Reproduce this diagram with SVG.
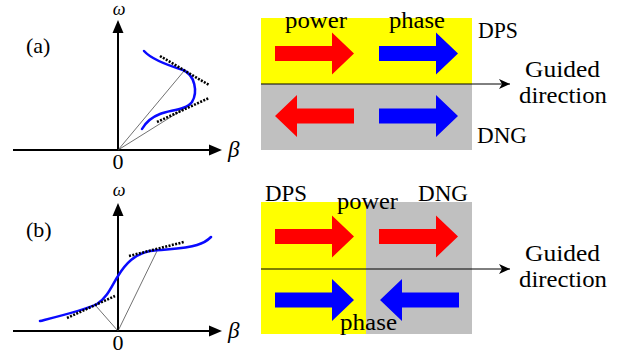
<svg xmlns="http://www.w3.org/2000/svg" width="633" height="358" viewBox="0 0 633 358">
<style>
.axis{stroke:#000;stroke-width:2;fill:none}
.curve{stroke:#0a0aff;stroke-width:2.5;fill:none;stroke-linecap:round}
.tan{stroke:#000;stroke-width:2.6;stroke-dasharray:2 1.4;fill:none}
.thin{stroke:#333;stroke-width:0.7;fill:none}
text{font-family:"Liberation Serif","Times New Roman",serif;fill:#000}
.big{font-size:24px}
.om{font-size:18px;font-style:italic;text-anchor:middle}
.be{font-size:23px;font-style:italic}
.zero{font-size:22px;text-anchor:middle}
.tag{font-size:22px}
.red{fill:#ff0000}
.blue{fill:#0000ff}
.guide{stroke:#000;stroke-width:1;fill:none}
</style>
<defs>
<path id="barrow" d="M0,-7.5 H57 V-21 L79,0 L57,21 V7.5 H0 Z"/>
<marker id="ah" markerWidth="12" markerHeight="10" refX="11" refY="5" orient="auto" markerUnits="userSpaceOnUse">
<path d="M0,0 L11,5 L0,10 L3,5 Z" fill="#000"/>
</marker>
</defs>
<rect width="633" height="358" fill="#fff"/>

<g id="plot-a">
<line class="axis" x1="13" y1="150" x2="212" y2="150"/>
<path d="M222,150 L209,144.5 L209,155.5 Z" fill="#000"/>
<line class="axis" x1="118" y1="150" x2="118" y2="30"/>
<path d="M118,20 L112.5,33 L123.5,33 Z" fill="#000"/>
<line class="thin" x1="118" y1="150" x2="184" y2="71"/>
<line class="thin" x1="118" y1="150" x2="190" y2="105"/>
<path class="curve" d="M144,51 C152,60 170,66 183,70 C195,75 198,92 192,102 C186,110 170,110 160,114 C152,117 146,122 142,129"/>
<line class="tan" x1="160" y1="56" x2="209" y2="85"/>
<line class="tan" x1="157" y1="122" x2="209" y2="98"/>
<text class="om" x="119" y="15">ω</text>
<text class="be" x="228" y="157">β</text>
<text class="zero" x="118" y="169">0</text>
<text class="tag" x="26" y="53">(a)</text>
</g>

<g id="plot-b">
<line class="axis" x1="13" y1="331" x2="212" y2="331"/>
<path d="M222,331 L209,325.5 L209,336.5 Z" fill="#000"/>
<line class="axis" x1="118" y1="331" x2="118" y2="213"/>
<path d="M118,203 L112.5,216 L123.5,216 Z" fill="#000"/>
<line class="thin" x1="118" y1="331" x2="96" y2="306"/>
<line class="thin" x1="118" y1="331" x2="157" y2="251"/>
<path class="curve" d="M40,321 C60,316 85,310 97,304 C108,297 112,285 118,276 C126,263 135,254 150,251 C165,249 185,249 197,245 C204,243 208,240 211,237"/>
<line class="tan" x1="67" y1="318" x2="115" y2="296"/>
<line class="tan" x1="129" y1="256" x2="184" y2="242"/>
<text class="om" x="119" y="196">ω</text>
<text class="be" x="228" y="338">β</text>
<text class="zero" x="118" y="350">0</text>
<text class="tag" x="26" y="237">(b)</text>
</g>

<g id="panel-a">
<rect x="261" y="18" width="211" height="66" fill="#ffff00"/>
<rect x="261" y="84" width="211" height="66" fill="#c0c0c0"/>
<use href="#barrow" class="red" transform="translate(275,53.5)"/>
<use href="#barrow" class="blue" transform="translate(379,53.5)"/>
<use href="#barrow" class="red" transform="translate(354,116) scale(-1,1)"/>
<use href="#barrow" class="blue" transform="translate(379,116)"/>
<text class="big" x="285" y="28" textLength="62" lengthAdjust="spacingAndGlyphs">power</text>
<text class="big" x="389" y="28" textLength="56" lengthAdjust="spacingAndGlyphs">phase</text>
<text class="big" x="478" y="38" textLength="40" lengthAdjust="spacingAndGlyphs">DPS</text>
<text class="big" x="477" y="143" textLength="50" lengthAdjust="spacingAndGlyphs">DNG</text>
<text class="big" x="525" y="77" textLength="75" lengthAdjust="spacingAndGlyphs">Guided</text>
<text class="big" x="519" y="103" textLength="88" lengthAdjust="spacingAndGlyphs">direction</text>
</g>

<g id="panel-b">
<rect x="261" y="202" width="105" height="132" fill="#ffff00"/>
<rect x="366" y="202" width="106" height="132" fill="#c0c0c0"/>
<use href="#barrow" class="red" transform="translate(275,236.5)"/>
<use href="#barrow" class="red" transform="translate(379,236.5)"/>
<use href="#barrow" class="blue" transform="translate(275,300)"/>
<use href="#barrow" class="blue" transform="translate(459,300) scale(-1,1)"/>
<text class="big" x="265" y="201" textLength="42" lengthAdjust="spacingAndGlyphs">DPS</text>
<text class="big" x="418" y="201" textLength="50" lengthAdjust="spacingAndGlyphs">DNG</text>
<text class="big" x="337" y="209" textLength="61" lengthAdjust="spacingAndGlyphs">power</text>
<text class="big" x="340" y="330" textLength="57" lengthAdjust="spacingAndGlyphs">phase</text>
<text class="big" x="525" y="261" textLength="75" lengthAdjust="spacingAndGlyphs">Guided</text>
<text class="big" x="519" y="287" textLength="88" lengthAdjust="spacingAndGlyphs">direction</text>
</g>

<g id="connectors">
<line class="guide" x1="261" y1="84" x2="510" y2="84" marker-end="url(#ah)"/>
<line class="guide" x1="261" y1="269" x2="510" y2="269" marker-end="url(#ah)"/>
</g>
</svg>
